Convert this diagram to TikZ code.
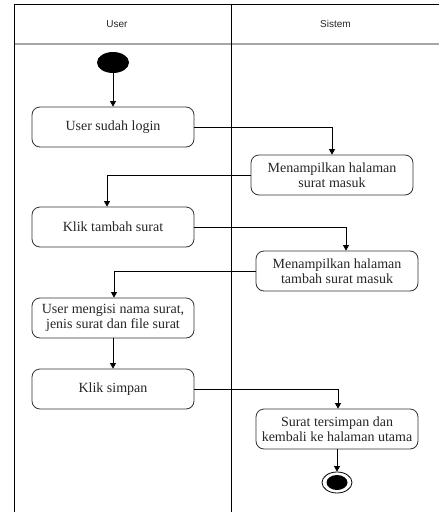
\documentclass[tikz,border=0pt]{standalone}
\usepackage{fontspec}
\setmainfont{Liberation Serif}
\newfontfamily\lanefont{Liberation Sans}
\usetikzlibrary{arrows.meta,calc,shapes.geometric}
\tikzset{
  lane/.style={line width=0.9pt, draw=black},
  laneinner/.style={line width=1.6pt, draw=gray!70},
  lanetitle/.style={font=\lanefont\fontsize{10}{12}\selectfont, text=black!85},
  act/.style={draw=black!80, line width=0.8pt, rounded corners=8pt, fill=white,
    minimum width=162pt, minimum height=40pt, align=center, inner sep=1pt,
    font=\fontsize{14}{14.5}\selectfont, text=black!85},
  flow/.style={draw=black, line width=0.8pt, -{Triangle[width=6pt,length=5.5pt]}},
}
\begin{document}
\begin{tikzpicture}[x=1pt,y=-1pt]
  \useasboundingbox (0,0) rectangle (439,512);
  \fill[white] (0,0) rectangle (439,512);

  % swimlane frame
  \draw[laneinner] (14,44) -- (439,44);
  \draw[lane] (14,512) -- (14,4.5) -- (439,4.5);
  \draw[lane] (231.5,4.5) -- (231.5,512);
  \node[lanetitle] (tuser) at (117,24) {User};
  \node[lanetitle] (tsys) at (335.5,24) {Sistem};

  % initial node
  \node[ellipse, fill=black, minimum width=32pt, minimum height=21pt, inner sep=0pt] (start) at (113,62.5) {};

  % actions
  \node[act] (b1) at (113,127) {User sudah login};
  \node[act] (b2) at (332,175) {Menampilkan halaman\\surat masuk};
  \node[act] (b3) at (113,227) {Klik tambah surat};
  \node[act] (b4) at (337,271) {Menampilkan halaman\\tambah surat masuk};
  \node[act] (b5) at (113,318) {User mengisi nama surat,\\jenis surat dan file surat};
  \node[act] (b6) at (113,389) {Klik simpan};
  \node[act] (b7) at (337,429) {Surat tersimpan dan\\kembali ke halaman utama};

  % final node
  \node[ellipse, draw=black, line width=0.8pt, fill=white, minimum width=30pt, minimum height=21pt, inner sep=0pt] (stop) at (337,482.5) {};
  \node[ellipse, fill=black, minimum width=21pt, minimum height=15pt, inner sep=0pt] (stopdot) at (stop.center) {};

  % control flow
  \draw[flow] (start) -- (b1);
  \draw[flow] (b1.east) -| (b2.north);
  \draw[flow] (b2.west) -| ($(b3.north)+(-6,0)$);
  \draw[flow] (b3.east) -| ($(b4.north)+(9,0)$);
  \draw[flow] (b4.west) -| ($(b5.north)+(1,0)$);
  \draw[flow] (b5) -- (b6);
  \draw[flow] (b6.east) -| ($(b7.north)+(1,0)$);
  \draw[flow] (b7) -- (stop);
\end{tikzpicture}
\end{document}
